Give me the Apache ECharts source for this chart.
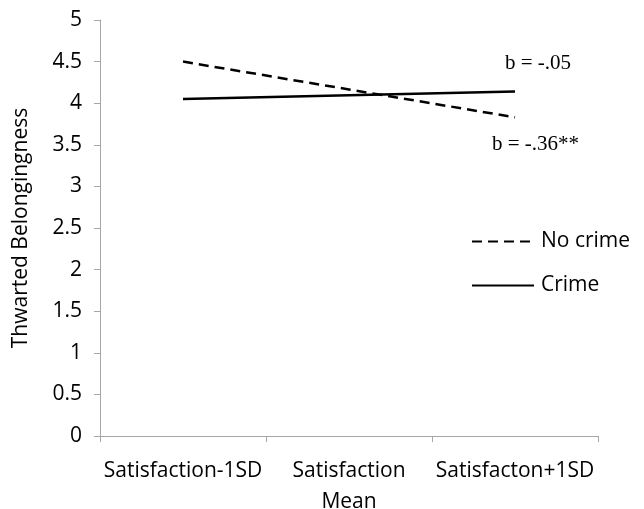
<!DOCTYPE html>
<html>
<head>
<meta charset="utf-8">
<script src="https://cdn.jsdelivr.net/npm/echarts@6/dist/echarts.min.js"></script>
<style>html,body{margin:0;padding:0;background:#fff}#c{width:644px;height:509px}</style>
</head>
<body>
<div id="c"></div>
<script>
const categories = ['Satisfaction-1SD', 'Satisfaction\nMean', 'Satisfacton+1SD'];
const noCrime = [4.5, 4.165, 3.83];
const crime = [4.05, 4.095, 4.14];
const noCrimeNote = 'b = -.36**';
const crimeNote = 'b = -.05';
const yTicks = [0, 0.5, 1, 1.5, 2, 2.5, 3, 3.5, 4, 4.5, 5];

const font = '"Open Sans", "Noto Sans", sans-serif';
const serif = '"Liberation Serif", "DejaVu Serif", serif';
const chart = echarts.init(document.getElementById('c'));
function endLabel(text, offset) {
  return {
    show: true,
    formatter: () => text,
    offset: offset,
    fontFamily: serif,
    fontSize: 21,
    color: '#000'
  };
}
chart.setOption({
  animation: false,
  grid: { left: 100, right: 46, top: 20, bottom: 73, containLabel: false, outerBoundsMode: 'none' },
  legend: {
    orient: 'vertical',
    left: 466,
    top: 226,
    itemWidth: 62,
    itemHeight: 14,
    itemGap: 23,
    itemStyle: { color: 'transparent', borderColor: 'transparent', borderWidth: 0 },
    textStyle: { fontFamily: font, fontSize: 21, color: '#000', padding: [0, 0, 0, 2] },
    data: ['No crime', 'Crime']
  },
  xAxis: {
    type: 'category',
    data: categories,
    boundaryGap: true,
    axisLine: { lineStyle: { color: '#a6a6a6', width: 1 } },
    axisTick: { show: true, alignWithLabel: false, length: 6, lineStyle: { color: '#a6a6a6' } },
    axisLabel: { interval: 0, fontFamily: font, fontSize: 21, color: '#000', margin: 20, lineHeight: 31 },
    splitLine: { show: false }
  },
  yAxis: {
    type: 'value',
    min: yTicks[0],
    max: yTicks[yTicks.length - 1],
    interval: 0.5,
    name: 'Thwarted Belongingness',
    nameLocation: 'middle',
    nameGap: 68,
    nameTextStyle: { fontFamily: font, fontSize: 21, color: '#000' },
    axisLine: { show: true, lineStyle: { color: '#a6a6a6', width: 1 } },
    axisTick: { show: true, length: 6, lineStyle: { color: '#a6a6a6' } },
    axisLabel: { fontFamily: font, fontSize: 21, color: '#000', margin: 18 },
    splitLine: { show: false }
  },
  series: [
    {
      name: 'No crime',
      type: 'line',
      data: noCrime,
      symbol: 'none',
      lineStyle: { color: '#000', width: 2.5, type: [10, 6] },
      itemStyle: { color: '#000' },
      endLabel: endLabel(noCrimeNote, [-31, 27])
    },
    {
      name: 'Crime',
      type: 'line',
      data: crime,
      symbol: 'none',
      lineStyle: { color: '#000', width: 2.5 },
      itemStyle: { color: '#000' },
      endLabel: endLabel(crimeNote, [-18, -28])
    }
  ]
});
</script>
</body>
</html>
